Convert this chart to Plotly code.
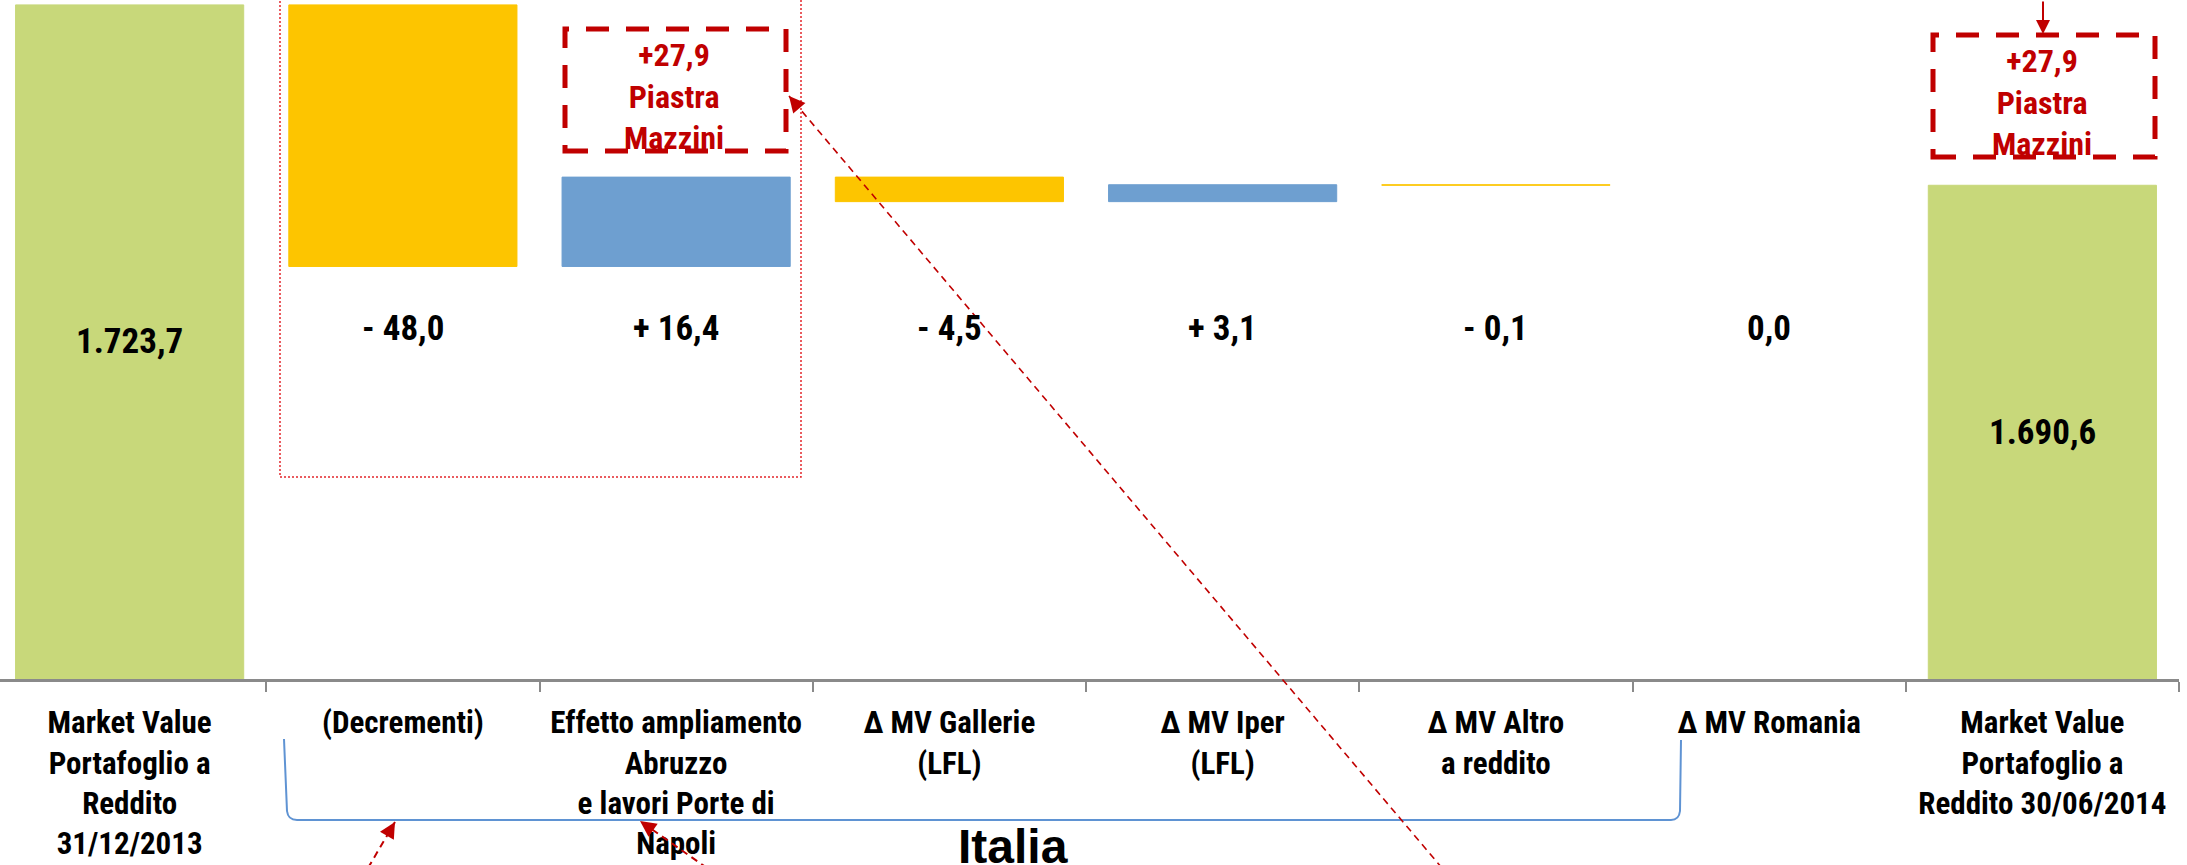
import math
import plotly.graph_objects as go

# ---------------- data ----------------
CATEGORIES = [
    "Market Value<br>Portafoglio a<br>Reddito<br>31/12/2013",
    "(Decrementi)",
    "Effetto ampliamento<br>Abruzzo<br>e lavori Porte di<br>Napoli",
    "Δ MV Gallerie<br>(LFL)",
    "Δ MV Iper<br>(LFL)",
    "Δ MV Altro<br>a reddito",
    "Δ MV Romania",
    "Market Value<br>Portafoglio a<br>Reddito 30/06/2014",
]
START_VALUE = 1723.7
DELTAS = [-48.0, 16.4, -4.5, 3.1, -0.1, 0.0]
END_VALUE = 1690.6
PIASTRA_MAZZINI = 27.9
PIASTRA_LABEL = "Piastra<br>Mazzini"
GROUP_LABEL = "Italia"

VALUES = [START_VALUE] + DELTAS + [END_VALUE]
MEASURES = ["absolute"] + ["relative"] * len(DELTAS) + ["total"]

# ---------------- styling ----------------
W, H = 2187, 865
ML, MR, MT, MB = 0, 8, 0, 186
PW, PH = W - ML - MR, H - MT - MB
Y_MIN, Y_MAX = 1600, 1724.6
X_RANGE = [-0.4744, 7.5]

GREEN = "#C8D87A"
YELLOW = "#FDC500"
BLUE = "#6E9FD0"
DARK_RED = "#C00000"
AXIS_GREY = "#8A8A8A"
BRACKET_BLUE = "#5F93D3"

NARROW = "Liberation Sans Narrow, Arial Narrow, Roboto Condensed, Liberation Sans, sans-serif"
LABEL_LEVEL = 1664.3


def fmt_it(v, signed=False):
    s = f"{abs(v):,.1f}".replace(",", "X").replace(".", ",").replace("X", ".")
    if signed:
        if v > 0:
            return "+ " + s
        if v < 0:
            return "- " + s
    return s


def pxx(x):
    return (x - ML) / PW


def pxy(y):
    return (MT + PH - y) / PH


fig = go.Figure()
fig.add_trace(go.Waterfall(
    x=CATEGORIES,
    y=VALUES,
    measure=MEASURES,
    connector=dict(visible=False),
    increasing=dict(marker=dict(color=BLUE, line=dict(color=BLUE, width=1))),
    decreasing=dict(marker=dict(color=YELLOW, line=dict(color=YELLOW, width=1))),
    totals=dict(marker=dict(color=GREEN, line=dict(color=GREEN, width=1))),
    textinfo="none",
    hoverinfo="skip",
))

annotations = []
# value labels
annotations.append(dict(x=0, y=(Y_MIN + START_VALUE) / 2, text=fmt_it(START_VALUE),
                        showarrow=False, xref="x", yref="y"))
for i, d in enumerate(DELTAS, start=1):
    annotations.append(dict(x=i, y=LABEL_LEVEL, text=fmt_it(d, signed=True),
                            showarrow=False, xref="x", yref="y"))
annotations.append(dict(x=len(CATEGORIES) - 1, y=(Y_MIN + END_VALUE) / 2, text=fmt_it(END_VALUE),
                        showarrow=False, xref="x", yref="y"))
for a in annotations:
    a["font"] = dict(family=NARROW, size=35, color="black", weight=700)
    a["xanchor"] = "center"
    a["yanchor"] = "middle"

# Piastra Mazzini boxes
box_text = f"+{fmt_it(PIASTRA_MAZZINI)}<br>{PIASTRA_LABEL}"
boxes = [(565, 29, 786, 151), (1933, 35, 2155, 157)]
shapes = []
for (x0, y0, x1, y1) in boxes:
    shapes.append(dict(type="rect", xref="paper", yref="paper",
                       x0=pxx(x0), x1=pxx(x1), y0=pxy(y1), y1=pxy(y0),
                       line=dict(color=DARK_RED, width=5, dash="23px,17px"),
                       fillcolor="rgba(0,0,0,0)", layer="above"))
    annotations.append(dict(x=pxx((x0 + x1) / 2 - 2), y=pxy((y0 + y1) / 2 + 6), xref="paper", yref="paper",
                            xanchor="center", yanchor="middle",
                            text=box_text, showarrow=False,
                            font=dict(family=NARROW, size=32, color=DARK_RED, weight=700)))

# dotted red frame round the first two deltas
shapes.append(dict(type="rect", xref="paper", yref="paper",
                   x0=pxx(280), x1=pxx(801), y0=pxy(477), y1=pxy(-6),
                   line=dict(color="#E3262B", width=1.5, dash="2px,2px"),
                   fillcolor="rgba(0,0,0,0)", layer="above"))

# blue bracket under the Italia categories
path = (f"M {pxx(284)},{pxy(739)} L {pxx(287)},{pxy(811)} "
        f"Q {pxx(288)},{pxy(820)} {pxx(297)},{pxy(820)} "
        f"L {pxx(1671)},{pxy(820)} Q {pxx(1679)},{pxy(820)} {pxx(1680)},{pxy(811)} "
        f"L {pxx(1681)},{pxy(740)}")
shapes.append(dict(type="path", xref="paper", yref="paper", path=path,
                   line=dict(color=BRACKET_BLUE, width=2)))

# dashed red arrows (tail -> tip)
arrows = [((368, 868), (395, 822), 2), ((707, 868), (640, 821), 2), ((1442, 868), (789, 96), 1.6)]
for (tx, ty), (hx, hy), wdt in arrows:
    shapes.append(dict(type="line", xref="paper", yref="paper",
                       x0=pxx(tx), y0=pxy(ty), x1=pxx(hx), y1=pxy(hy),
                       line=dict(color=DARK_RED, width=wdt, dash="7px,5px"), layer="above"))
    L = math.hypot(tx - hx, ty - hy)
    annotations.append(dict(x=pxx(hx), y=pxy(hy), xref="paper", yref="paper",
                            ax=(tx - hx) / L * 16, ay=(ty - hy) / L * 16,
                            text="", showarrow=True, arrowhead=2, arrowsize=1.6,
                            arrowwidth=2, arrowcolor=DARK_RED, standoff=0))

# solid arrow into the right box
annotations.append(dict(x=pxx(2043), y=pxy(34), xref="paper", yref="paper",
                        ax=0, ay=-45, text="", showarrow=True, arrowhead=2, arrowsize=1.4,
                        arrowwidth=2, arrowcolor=DARK_RED, standoff=0))

# Italia group label
annotations.append(dict(x=pxx(1013), y=pxy(818), xref="paper", yref="paper",
                        xanchor="center", yanchor="top", text=GROUP_LABEL, showarrow=False,
                        font=dict(family="Liberation Sans, Arial, sans-serif", size=48,
                                  color="black", weight=700)))

fig.update_layout(
    width=W, height=H,
    margin=dict(l=ML, r=MR, t=MT, b=MB, pad=0),
    paper_bgcolor="white", plot_bgcolor="white",
    showlegend=False,
    waterfallgap=0.165,
    xaxis=dict(type="category", range=X_RANGE, showline=True, linecolor=AXIS_GREY, linewidth=3,
               ticks="outside", tickson="boundaries", ticklen=10, tickwidth=2, tickcolor=AXIS_GREY,
               tickfont=dict(family=NARROW, size=31, color="black", weight=700),
               ticklabelstandoff=14, showgrid=False, zeroline=False, fixedrange=True),
    yaxis=dict(range=[Y_MIN, Y_MAX], visible=False, fixedrange=True),
    shapes=shapes,
    annotations=annotations,
)

fig.write_html("out.html", config={"displayModeBar": False},
               post_script="document.body.style.margin='0';document.body.style.overflow='hidden';")
